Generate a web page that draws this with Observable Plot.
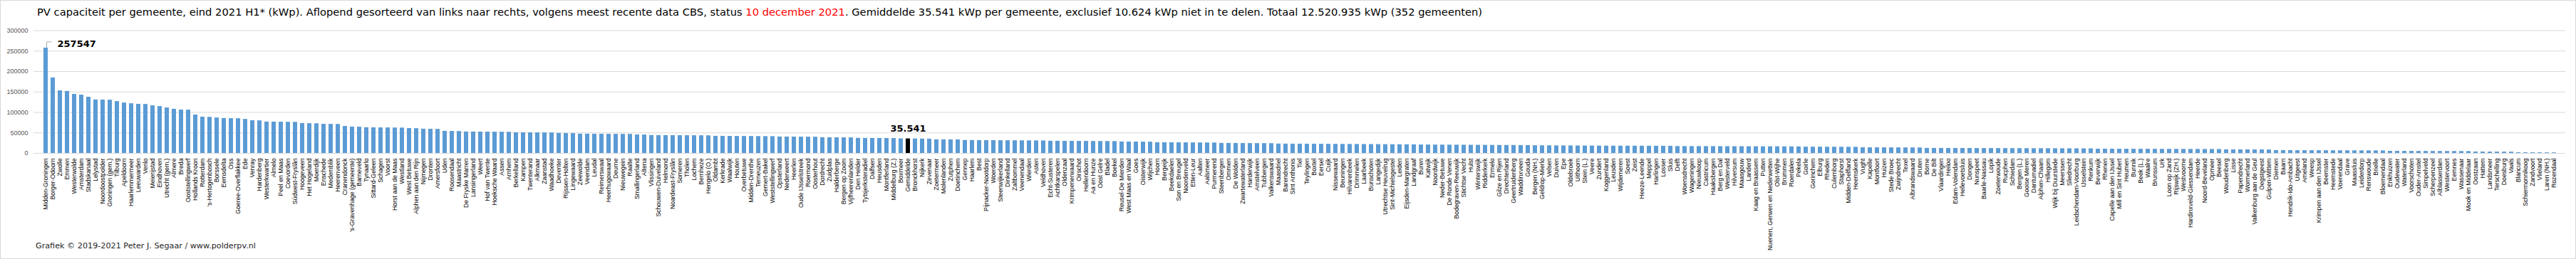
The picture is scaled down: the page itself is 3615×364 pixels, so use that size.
<!DOCTYPE html>
<html><head><meta charset="utf-8">
<script src="https://cdn.jsdelivr.net/npm/d3@7"></script>
<script src="https://cdn.jsdelivr.net/npm/@observablehq/plot@0.6"></script>
<style>
html,body{margin:0;padding:0;background:#fff;}
#wrap{position:relative;width:3615px;height:364px;overflow:hidden;background:#fff;}
#frame{position:absolute;left:0;top:0;width:3613px;height:362px;border:1px solid #d9d9d9;pointer-events:none;}
#title{position:absolute;left:52px;top:8px;font-family:"DejaVu Sans";font-size:14.7px;white-space:nowrap;color:#000;}
#title .red{color:#ff0000;}
#footer{position:absolute;left:50px;top:339px;font-family:"DejaVu Sans";font-size:11.2px;white-space:nowrap;color:#262626;}
#chart{position:absolute;left:0;top:0;}
</style></head>
<body>
<div id="wrap">
<div id="chart"></div>
<div id="title">PV capaciteit per gemeente, eind 2021 H1* (kWp). Aflopend gesorteerd van links naar rechts, volgens meest recente data CBS, status <span class="red">10 december 2021</span>. Gemiddelde 35.541 kWp per gemeente, exclusief 10.624 kWp niet in te delen. Totaal 12.520.935 kWp (352 gemeenten)</div>
<div id="footer">Grafiek © 2019-2021 Peter J. Segaar / www.polderpv.nl</div>
<div id="frame"></div>
</div>
<script>
const names = [
"Midden-Groningen","Borger-Odoorn","Zwolle","Emmen","Westerwolde","Amsterdam","Stadskanaal","Lelystad","Noordoostpolder","Groningen (gem.)",
"Tilburg","Apeldoorn","Haarlemmermeer","Leeuwarden","Venlo","Meierijstad","Eindhoven","Utrecht (gem.)","Almere","Breda",
"Ooststellingwerf","Hollands Kroon","Rotterdam","'s-Hertogenbosch","Borssele","Eemsdelta","Oss","Goeree-Overflakkee","Ede","Venray",
"Hardenberg","Westerkwartier","Almelo","Peel en Maas","Coevorden","Súdwest-Fryslân","Hoogeveen","Het Hogeland","Moerdijk","Enschede",
"Medemblik","Heerenveen","Cranendonck","'s-Gravenhage (gemeente)","Barneveld","Tynaarlo","Sittard-Geleen","Schagen","Voorst","Horst aan de Maas",
"Westland","West Betuwe","Alphen aan den Rijn","Nijmegen","Dronten","Amersfoort","Uden","Roosendaal","Maastricht","De Fryske Marren",
"Lansingerland","Weert","Hof van Twente","Hoeksche Waard","Assen","Arnhem","Berkelland","Kampen","Twenterand","Alkmaar",
"Zaanstad","Waadhoeke","Deventer","Rijssen-Holten","Lingewaard","Zeewolde","Veendam","Leudal","Reimerswaal","Heerhugowaard",
"Deurne","Nieuwegein","Raalte","Smallingerland","Altena","Vlissingen","Schouwen-Duiveland","Helmond","Noardeast-Fryslân","Someren",
"Tholen","Lochem","Bernheze","Hengelo (O.)","Oldambt","Kerkrade","Waalwijk","Houten","Overbetuwe","Midden-Drenthe",
"Terneuzen","Gemert-Bakel","Weststellingwerf","Opsterland","Nederweert","Heerlen","Oude IJsselstreek","Roermond","Oosterhout","Dordrecht",
"Zuidplas","Halderberge","Bergen op Zoom","Vijfheerenlanden","Den Helder","Tytsjerksteradiel","Dalfsen","Heusden","Montferland","Middelburg (Z.)",
"Boxmeer","Gemiddelde","Bronckhorst","Nijkerk","Zevenaar","Zoetermeer","Molenlanden","Zutphen","Doetinchem","Gennep",
"Haarlem","Best","Pijnacker-Nootdorp","Woerden","Steenwijkerland","Dinkelland","Zaltbommel","Veenendaal","Wierden","Asten",
"Veldhoven","Echt-Susteren","Achtkarspelen","Oldenzaal","Krimpenerwaard","Oirschot","Hellendoorn","Aa en Hunze","Oost Gelre","Bladel",
"Boekel","Reusel-De Mierden","West Maas en Waal","Goes","Oisterwijk","Wijchen","Hoorn","Bergeijk","Beekdaelen","Son en Breugel",
"Noordenveld","Etten-Leur","Aalten","Aalsmeer","Purmerend","Steenbergen","Ommen","De Wolden","Zwartewaterland","Harderwijk",
"Amstelveen","Tubbergen","Valkenswaard","Maasdriel","Barendrecht","Sint Anthonis","Tiel","Teylingen","Boxtel","Eersel",
"Cuijk","Nissewaard","Beuningen","Hilvarenbeek","Drimmelen","Laarbeek","Bunschoten","Langedijk","Utrechtse Heuvelrug","Sint-Michielsgestel",
"Leiden","Eijsden-Margraten","Landgraaf","Buren","Katwijk","Noordwijk","Neder-Betuwe","De Ronde Venen","Bodegraven-Reeuwijk","Stichtse Vecht",
"Hulst","Winterswijk","Ridderkerk","Ermelo","Gilze en Rijen","Drechterland","Geertruidenberg","Waddinxveen","Gouda","Bergen (NH.)",
"Geldrop-Mierlo","Velsen","Duiven","Epe","Oldebroek","Uithoorn","Stein (L.)","Veere","Zundert","Koggenland",
"Leusden","Wijdemeren","Soest","Zeist","Heeze-Leende","Meppel","Harlingen","Losser","Sluis","Delft",
"Woensdrecht","Wageningen","Nieuwkoop","Castricum","Haaksbergen","Berg en Dal","Westerveld","Hilversum","Maasgouw","Landerd",
"Kaag en Braassem","Putten","Nuenen, Gerwen en Nederwetten","Olst-Wijhe","Brummen","Roerdalen","Pekela","Goirle","Gorinchem","Elburg",
"Rheden","Culemborg","Staphorst","Midden-Delfland","Heemskerk","Vught","Kapelle","Montfoort","Huizen","Stede Broec",
"Zwijndrecht","Texel","Albrandswaard","Druten","Borne","De Bilt","Vlaardingen","Heiloo","Edam-Volendam","Hellevoetsluis",
"Dongen","Nunspeet","Baarle-Nassau","Lopik","Zoeterwoude","Rucphen","Schiedam","Bergen (L.)","Gooise Meren","Dantumadiel",
"Alphen-Chaam","Hillegom","Wijk bij Duurstede","Meerssen","Sliedrecht","Leidschendam-Voorburg","IJsselstein","Renkum","Beverwijk","Rhenen",
"Capelle aan den IJssel","Mill en Sint Hubert","Heumen","Bunnik","Beek (L.)","Waalre","Brunssum","Urk","Loon op Zand","Rijswijk (ZH.)",
"Westvoorne","Hardinxveld-Giessendam","Heerde","Noord-Beveland","Opmeer","Beesel","Woudenberg","Lisse","Papendrecht","Wormerland",
"Valkenburg aan de Geul","Oegstgeest","Gulpen-Wittem","Diemen","Baarn","Hendrik-Ido-Ambacht","Uitgeest","Ameland","Weesp","Krimpen aan den IJssel",
"Beemster","Heemstede","Voerendaal","Grave","Maassluis","Leiderdorp","Renswoude","Brielle","Bloemendaal","Enkhuizen",
"Oudewater","Waterland","Voorschoten","Ouder-Amstel","Simpelveld","Scherpenzeel","Alblasserdam","Westervoort","Eemnes","Wassenaar",
"Mook en Middelaar","Oostzaan","Hattem","Landsmeer","Terschelling","Doesburg","Vaals","Blaricum","Schiermonnikoog","Zandvoort",
"Vlieland","Laren (NH.)","Rozendaal"
];
const values = [
257547,184600,153000,151500,144300,142600,137400,130800,130500,130200,
126800,123300,121500,120100,119800,116400,114600,111200,107900,106100,
105900,93900,88700,88300,86800,85400,85100,84900,83200,80100,
79700,76800,76600,76400,76200,76000,73100,72800,72600,71300,
71100,70900,66100,64500,64200,62900,62700,62500,62400,62200,
62000,60900,60600,59300,59100,58800,54100,53800,53600,52400,
52300,52200,52100,52000,51900,51800,50600,50500,50400,50300,
50200,50100,48900,48700,48500,47200,47100,47000,46900,46800,
46700,46600,46500,45300,45100,43900,43800,43700,43600,43500,
43400,43300,43200,43100,41900,41800,41700,41600,41500,41400,
41300,41200,41100,40200,40100,40000,39900,39800,39700,38500,
38400,38300,38200,38100,36900,36800,36700,36600,36500,36400,
35700,35541,35400,35200,35000,33400,33300,33200,33100,31700,
31600,31500,31400,31300,31200,31100,31000,30900,30800,30700,
30600,29900,29800,29700,29600,29500,29400,29300,29200,29100,
29000,28000,27900,27800,27700,27600,26300,26200,26100,26000,
25900,25800,25700,25600,25500,24600,24500,24400,24300,24200,
24100,24000,23900,23000,22900,22800,22700,22600,22500,22400,
22300,22200,22100,22000,21900,21800,21700,21600,21500,21400,
21300,21200,21100,20700,20600,20500,20400,20300,20200,20100,
20000,19900,19800,19700,19600,19500,19400,19300,19200,18900,
18800,18700,18600,18500,18400,18300,18200,18100,18000,17950,
17900,17850,17800,17750,17700,17650,17600,17550,17500,16900,
16850,16800,16750,16700,16650,16600,16550,16500,16450,16400,
16350,16300,16250,16200,16150,16100,16050,15400,15350,15300,
15250,15200,15150,15100,15050,13900,13850,13800,13750,13700,
13650,13600,13550,13500,12400,12350,12300,12250,12200,12150,
12100,12050,12000,11950,11900,11850,11800,11750,11700,11650,
11600,11550,11500,11450,11400,11350,11300,11250,10500,10450,
10400,10350,10300,10250,10200,10150,10100,10050,10000,9950,
9900,9850,9800,9750,9700,9650,8800,8750,8700,8650,
8600,8550,8500,7000,6950,6900,6850,6800,6750,6700,
6650,6600,6550,6500,6450,6400,6350,6300,6250,5200,
5150,5100,5050,5000,4950,4900,4850,4800,4750,4700,
4650,3500,3450,3400,3350,3300,3250,1700,1650,1600,
1550,1500,1450
];
const yTicks = [0, 50000, 100000, 150000, 200000, 250000, 300000];
const averageName = "Gemiddelde";
const averageLabel = "35.541";
const topLabel = "257547";

const data = names.map((name, i) => ({name, value: values[i]}));
const regular = data.filter(d => d.name !== averageName);
const average = data.filter(d => d.name === averageName);
const first = [data[0]];

const chart = Plot.plot({
  width: 3615,
  height: 364,
  marginLeft: 47,
  marginRight: 15,
  marginTop: 42.5,
  marginBottom: 149,
  style: {fontFamily: "Liberation Sans", background: "transparent"},
  x: {domain: names, padding: 0.43, axis: null},
  y: {domain: [0, 300000], axis: null},
  marks: [
    Plot.gridY(yTicks, {stroke: "#d9d9d9", strokeOpacity: 1, strokeWidth: 1.2}),
    Plot.barY(regular, {x: "name", y: "value", fill: "#5b9bd5"}),
    Plot.barY(average, {x: "name", y: "value", fill: "#000000"}),
    Plot.axisY(yTicks, {tickSize: 0, tickPadding: 8, tickFormat: d3.format("d"), fontSize: 9, color: "#595959", label: null}),
    Plot.text(data, {x: "name", y: () => 0, text: "name", rotate: -90, textAnchor: "end", dy: 7, fontSize: 8.7, fill: "#000"}),
    Plot.text(average, {x: "name", y: "value", text: () => averageLabel, dy: -14, fontSize: 13, fontWeight: "bold", fontFamily: "DejaVu Sans", fill: "#000"}),
    Plot.link(first, {x1: "name", x2: "name", y1: d => d.value + 1200, y2: () => 272500, stroke: "#a6a6a6", strokeWidth: 1, dx: 1}),
    Plot.tickY(first, {x: "name", y: () => 272500, stroke: "#a6a6a6", strokeWidth: 1, dx: 5}),
    Plot.text(first, {x: "name", y: () => 267800, text: () => topLabel, textAnchor: "start", dx: 16, fontSize: 13, fontWeight: "bold", fontFamily: "DejaVu Sans", fill: "#000"})
  ]
});
document.getElementById("chart").appendChild(chart);
</script>
</body></html>
